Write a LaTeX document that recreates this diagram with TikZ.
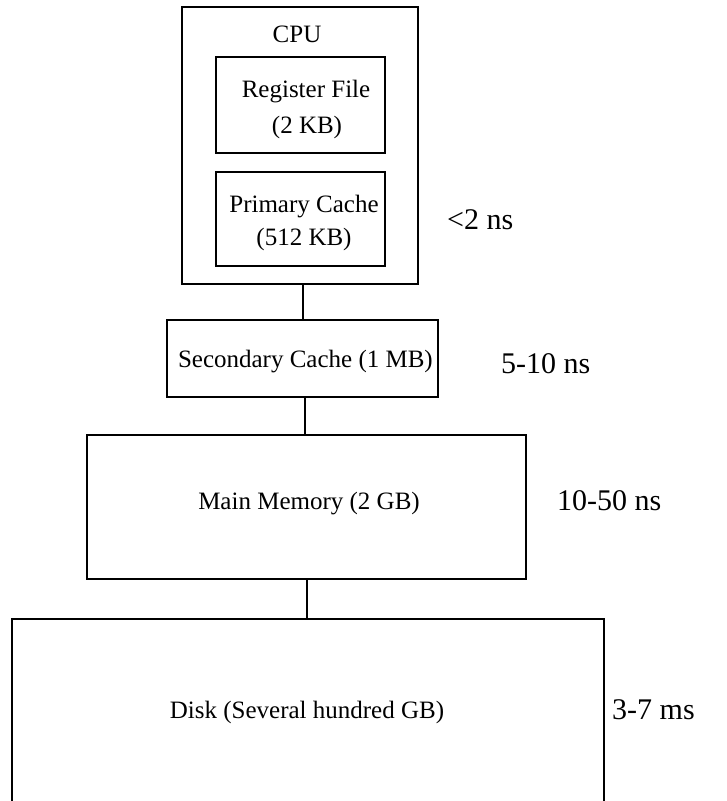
\documentclass[tikz,border=0pt]{standalone}
\usepackage{fontspec}
\setmainfont{Liberation Serif}
\usetikzlibrary{calc}
\begin{document}
\begin{tikzpicture}[x=1pt,y=-1pt,
  box/.style={draw, line width=1.6pt, inner sep=0pt, outer sep=0pt},
  txt/.style={font=\fontsize{25}{30}\selectfont, inner sep=0pt, anchor=base},
  lat/.style={font=\fontsize{30}{36}\selectfont, inner sep=0pt, anchor=base west},
  wire/.style={line width=1.6pt}]
\useasboundingbox (0,0) rectangle (727,801);
% boxes
\node[box, minimum width=236pt, minimum height=277pt] (cpu) at (300,145.5) {};
\node[box, minimum width=169pt, minimum height=96pt] (reg) at (300.5,105) {};
\node[box, minimum width=169pt, minimum height=94pt] (prim) at (300.5,219) {};
\node[box, minimum width=271pt, minimum height=77pt] (sec) at (302.5,358.5) {};
\node[box, minimum width=439pt, minimum height=144pt] (main) at (306.5,507) {};
\node[minimum width=592pt, minimum height=182pt, inner sep=0pt, outer sep=0pt] (disk) at (308,710) {};
\draw[wire] (disk.south west) -- (disk.north west) -- (disk.north east) -- (disk.south east);
% texts
\node[txt] (cputxt) at (297,42) {CPU};
\node[txt] (reg1) at (306,97) {Register File};
\node[txt] (reg2) at (307,133) {(2 KB)};
\node[txt] (prim1) at (304,212) {Primary Cache};
\node[txt] (prim2) at (304,245) {(512 KB)};
\node[txt, anchor=base east] (sectxt) at (433,367) {Secondary Cache (1 MB)};
\node[txt] (maintxt) at (309,509) {Main Memory (2 GB)};
\node[txt] (disktxt) at (307,718) {Disk (Several hundred GB)};
% latencies
\node[lat] (l1) at (447,229) {<2 ns};
\node[lat] (l2) at (501,373) {5-10 ns};
\node[lat] (l3) at (557,510) {10-50 ns};
\node[lat] (l4) at (612,719) {3-7 ms};
% connectors
\draw[wire] ([xshift=3pt]cpu.south) -- ([xshift=3pt]cpu.south |- sec.north);
\draw[wire] ([xshift=2.5pt]sec.south) -- ([xshift=2.5pt]sec.south |- main.north);
\draw[wire] ([xshift=0.5pt]main.south) -- ([xshift=0.5pt]main.south |- disk.north);
\end{tikzpicture}
\end{document}
